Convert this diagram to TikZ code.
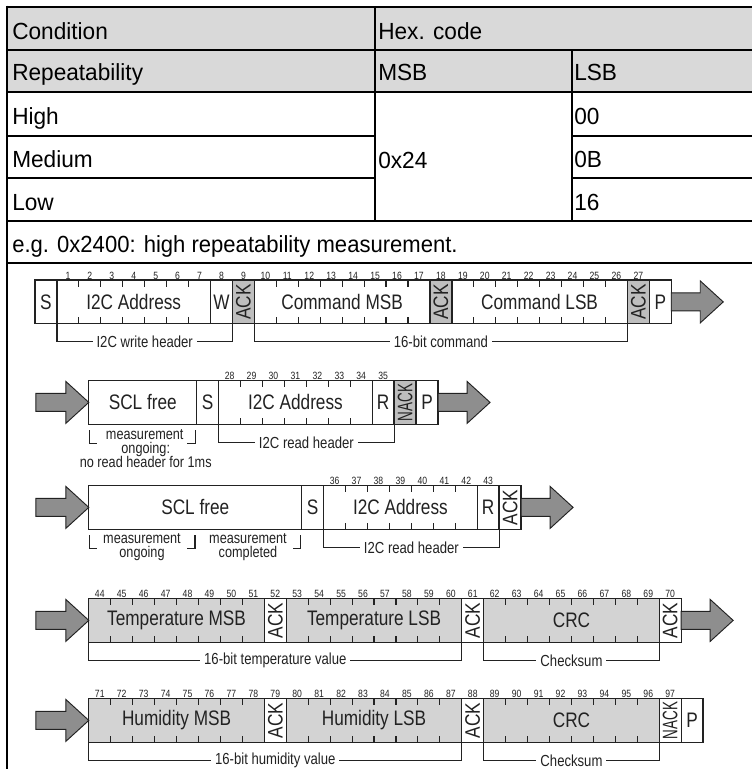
\documentclass[tikz,border=0pt]{standalone}
\usepackage{fontspec}
\usepackage{graphicx}
\setmainfont{Liberation Sans}
\newfontfamily\nfont[FakeStretch=0.82]{Liberation Sans}
\newfontfamily\tfont[FakeStretch=0.97]{Liberation Sans}
\newfontfamily\egfont[FakeStretch=0.945]{Liberation Sans}
\usetikzlibrary{calc}
\definecolor{hdr}{HTML}{D9D9D9}
\definecolor{ackg}{HTML}{BEBEBE}
\definecolor{datag}{HTML}{D3D3D3}
\definecolor{arrg}{HTML}{8E8E8E}
\definecolor{ink}{HTML}{222222}
\newdimen\cw \cw=16.455pt
\newdimen\bh \bh=32.85pt
\tikzset{
 tline/.style={line width=2.1pt, black},
 tthin/.style={line width=1pt, black},
 ttext/.style={font=\tfont\fontsize{17.5}{20}\selectfont, anchor=base west, inner sep=0pt, text=black},
 fld/.style={draw=ink, line width=1pt, inner sep=0pt, outer sep=0pt, minimum height=\bh, anchor=north west, font=\nfont\fontsize{15.75}{18}\selectfont, text=ink},
 tick/.style={draw=ink, line width=0.85pt},
 num/.style={font=\nfont\fontsize{7.9}{9}\selectfont, inner sep=0pt, anchor=base, text=ink},
 lbl/.style={font=\nfont\fontsize{12}{13}\selectfont, fill=white, inner xsep=3pt, inner ysep=1pt, text=ink},
 mtext/.style={font=\nfont\fontsize{11.6}{13}\selectfont, inner sep=0pt, anchor=base, text=ink},
 brk/.style={draw=ink, line width=0.85pt},
 bigarrow/.style={draw=ink, line width=0.7pt, fill=arrg, line join=miter},
}
\newcommand\fieldbox[7]{\node[fld, fill=#6, minimum width=#4*\cw] (#1) at ({#2+#3*21.94},#5) {#7};}
\newcommand\tickmarks[4]{\pgfmathtruncatemacro\tkcount{#3-1}%
  \foreach \i in {1,...,\tkcount}{\draw[tick] ({#1+(#2+\i)*21.94},#4) -- ++(0,6.5) ({#1+(#2+\i)*21.94},{#4+43.8}) -- ++(0,-6.5);}}
\newcommand\bitnums[5]{\foreach \i in {1,...,#3}{\pgfmathtruncatemacro\bitn{#4+\i-1}\node[num] (n\bitn) at ({#1+(#2+\i-0.5)*21.94},{#5-1}) {\bitn};}}
\newcommand\ackt{\rotatebox{90}{ACK}}
\newcommand\nackt{\rotatebox{90}{\scalebox{0.78}[1]{NACK}}}
\newcommand\outarrow[1]{\draw[bigarrow] (#1) ++(0,-9) -- ++(29,0) -- ++(0,-12) -- ++(23,21) -- ++(-23,21) -- ++(0,-12) -- ++(-29,0) -- cycle;}
\newcommand\inarrow[1]{\draw[bigarrow] (#1) ++(-53,-9) -- ++(30,0) -- ++(0,-12) -- ++(23,21) -- ++(-23,21) -- ++(0,-12) -- ++(-30,0) -- cycle;}
\begin{document}
\begin{tikzpicture}[x=0.75pt,y=-0.75pt]
\useasboundingbox (0,0) rectangle (752,769);
\fill[white] (0,0) rectangle (752,769);
% ---------- table ----------
\fill[hdr] (7,7) rectangle (760,92);
\draw[tthin] (7,50) -- (760,50);
\draw[tthin] (375,7) -- (375,92);
\draw[tthin] (572,50) -- (572,92);
\draw[tline] (375,92) -- (375,221);
\draw[tline] (572,92) -- (572,221);
\draw[tline] (7,7) -- (760,7);
\draw[tline] (7,92) -- (760,92);
\draw[tline] (7,136) -- (375,136) (572,136) -- (760,136);
\draw[tline] (7,178) -- (375,178) (572,178) -- (760,178);
\draw[tline] (7,221) -- (760,221);
\draw[tline] (7,263) -- (760,263);
\draw[tline] (7,5.6) -- (7,775);
\node[ttext] (tcond) at (12,39.5) {Condition};
\node[ttext] (thex) at (378,39.5) {Hex. code};
\node[ttext] (trep) at (12,80) {Repeatability};
\node[ttext] (tmsb) at (378,80) {MSB};
\node[ttext] (tlsb) at (574,80) {LSB};
\node[ttext] (thigh) at (12,124) {High};
\node[ttext] (tmed) at (12,167) {Medium};
\node[ttext] (tlow) at (12,210) {Low};
\node[ttext] (t24) at (378,168) {0x24};
\node[ttext] (t00) at (574,124) {00};
\node[ttext] (t0B) at (574,167) {0B};
\node[ttext] (t16) at (574,210) {16};
\node[ttext, font=\egfont\fontsize{17.5}{20}\selectfont] (teg) at (12,252) {e.g. 0x2400: high repeatability measurement.};
% ---------- row 1 ----------
\fieldbox{aS}{35}{0}{1}{280}{white}{S}
\fieldbox{aAddr}{35}{1}{7}{280}{white}{I2C Address}
\tickmarks{35}{1}{7}{280}
\bitnums{35}{1}{7}{1}{280}
\fieldbox{aW}{35}{8}{1}{280}{white}{W}
\bitnums{35}{8}{1}{8}{280}
\fieldbox{aA1}{35}{9}{1}{280}{ackg}{\ackt}
\bitnums{35}{9}{1}{9}{280}
\fieldbox{aMSB}{35}{10}{8}{280}{white}{Command MSB}
\tickmarks{35}{10}{8}{280}
\bitnums{35}{10}{8}{10}{280}
\fieldbox{aA2}{35}{18}{1}{280}{ackg}{\ackt}
\bitnums{35}{18}{1}{18}{280}
\fieldbox{aLSB}{35}{19}{8}{280}{white}{Command LSB}
\tickmarks{35}{19}{8}{280}
\bitnums{35}{19}{8}{19}{280}
\fieldbox{aA3}{35}{27}{1}{280}{ackg}{\ackt}
\bitnums{35}{27}{1}{27}{280}
\fieldbox{aP}{35}{28}{1}{280}{white}{P}
\outarrow{aP.east}
\draw[brk] (aAddr.south west) -- ++(0,18) -| node[lbl,pos=0.25] (l1) {I2C write header} (aW.south east);
\draw[brk] (aMSB.south west) -- ++(0,18) -| node[lbl,pos=0.25] (l2) {16-bit command} (aLSB.south east);
% ---------- row 2 ----------
\node[fld, fill=white, minimum width=80.93pt] (bScl) at (88.8,380.5) {SCL free};
\fieldbox{bS}{196.7}{0}{1}{380.5}{white}{S}
\fieldbox{bAddr}{196.7}{1}{7}{380.5}{white}{I2C Address}
\tickmarks{196.7}{1}{7}{380.5}
\bitnums{196.7}{1}{7}{28}{380.5}
\fieldbox{bR}{196.7}{8}{1}{380.5}{white}{R}
\bitnums{196.7}{8}{1}{35}{380.5}
\fieldbox{bN}{196.7}{9}{1}{380.5}{ackg}{\nackt}
\fieldbox{bP}{196.7}{10}{1}{380.5}{white}{P}
\inarrow{bScl.west}
\outarrow{bP.east}
\draw[brk] (bAddr.south west) -- ++(0,18) -| node[lbl,pos=0.25] (l3) {I2C read header} (bR.south east);
\draw[brk] ($(bScl.south west)+(0.5,6)$) -- ++(0,13) -- ++(8,0);
\draw[brk] ($(bScl.south east)+(-1.5,6)$) -- ++(0,13) -- ++(-8,0);
\node[mtext] (m1) at ($(bScl.south)+(2,15)$) {measurement};
\node[mtext] (m2) at ($(bScl.south)+(3,29)$) {ongoing:};
\node[mtext] (m3) at ($(bScl.south)+(3,43)$) {no read header for 1ms};
% ---------- row 3 ----------
\node[fld, fill=white, minimum width=159.68pt] (cScl) at (88.8,485.5) {SCL free};
\fieldbox{cS}{301.7}{0}{1}{485.5}{white}{S}
\fieldbox{cAddr}{301.7}{1}{7}{485.5}{white}{I2C Address}
\tickmarks{301.7}{1}{7}{485.5}
\bitnums{301.7}{1}{7}{36}{485.5}
\fieldbox{cR}{301.7}{8}{1}{485.5}{white}{R}
\bitnums{301.7}{8}{1}{43}{485.5}
\fieldbox{cA}{301.7}{9}{1}{485.5}{white}{\ackt}
\inarrow{cScl.west}
\outarrow{cA.east}
\draw[brk] (cAddr.south west) -- ++(0,18) -| node[lbl,pos=0.25] (l4) {I2C read header} (cR.south east);
\coordinate (cmid) at (195,529.3);
\draw[brk] ($(cScl.south west)+(0.5,6)$) -- ++(0,13) -- ++(8,0);
\draw[brk] ($(cmid)+(0,6)$) -- ++(0,13) -- ++(-8,0);
\draw[brk] ($(cScl.south east)+(-1,6)$) -- ++(0,13) -- ++(-8,0);
\node[mtext] (m4) at (142,543.5) {measurement};
\node[mtext] (m5) at (142,557.5) {ongoing};
\node[mtext] (m6) at (248,543.5) {measurement};
\node[mtext] (m7) at (248,557.5) {completed};
% ---------- row 4 ----------
\fieldbox{dMSB}{88.8}{0}{8}{598.5}{datag}{Temperature MSB}
\tickmarks{88.8}{0}{8}{598.5}
\bitnums{88.8}{0}{8}{44}{598.5}
\fieldbox{dA1}{88.8}{8}{1}{598.5}{white}{\ackt}
\bitnums{88.8}{8}{1}{52}{598.5}
\fieldbox{dLSB}{88.8}{9}{8}{598.5}{datag}{Temperature LSB}
\tickmarks{88.8}{9}{8}{598.5}
\bitnums{88.8}{9}{8}{53}{598.5}
\fieldbox{dA2}{88.8}{17}{1}{598.5}{white}{\ackt}
\bitnums{88.8}{17}{1}{61}{598.5}
\fieldbox{dCRC}{88.8}{18}{8}{598.5}{datag}{CRC}
\tickmarks{88.8}{18}{8}{598.5}
\bitnums{88.8}{18}{8}{62}{598.5}
\fieldbox{dA3}{88.8}{26}{1}{598.5}{white}{\ackt}
\bitnums{88.8}{26}{1}{70}{598.5}
\inarrow{dMSB.west}
\outarrow{dA3.east}
\draw[brk] (dMSB.south west) -- ++(0,18) -| node[lbl,pos=0.25] (l5) {16-bit temperature value} (dLSB.south east);
\draw[brk] (dCRC.south west) -- ++(0,18) -| node[lbl,pos=0.25] (l6) {Checksum} (dCRC.south east);
% ---------- row 5 ----------
\fieldbox{eMSB}{88.8}{0}{8}{698.5}{datag}{Humidity MSB}
\tickmarks{88.8}{0}{8}{698.5}
\bitnums{88.8}{0}{8}{71}{698.5}
\fieldbox{eA1}{88.8}{8}{1}{698.5}{white}{\ackt}
\bitnums{88.8}{8}{1}{79}{698.5}
\fieldbox{eLSB}{88.8}{9}{8}{698.5}{datag}{Humidity LSB}
\tickmarks{88.8}{9}{8}{698.5}
\bitnums{88.8}{9}{8}{80}{698.5}
\fieldbox{eA2}{88.8}{17}{1}{698.5}{white}{\ackt}
\bitnums{88.8}{17}{1}{88}{698.5}
\fieldbox{eCRC}{88.8}{18}{8}{698.5}{datag}{CRC}
\tickmarks{88.8}{18}{8}{698.5}
\bitnums{88.8}{18}{8}{89}{698.5}
\fieldbox{eN}{88.8}{26}{1}{698.5}{white}{\nackt}
\bitnums{88.8}{26}{1}{97}{698.5}
\fieldbox{eP}{88.8}{27}{1}{698.5}{white}{P}
\inarrow{eMSB.west}
\draw[brk] (eMSB.south west) -- ++(0,18) -| node[lbl,pos=0.25] (l7) {16-bit humidity value} (eLSB.south east);
\draw[brk] (eCRC.south west) -- ++(0,18) -| node[lbl,pos=0.25] (l8) {Checksum} (eCRC.south east);
\end{tikzpicture}
\end{document}
